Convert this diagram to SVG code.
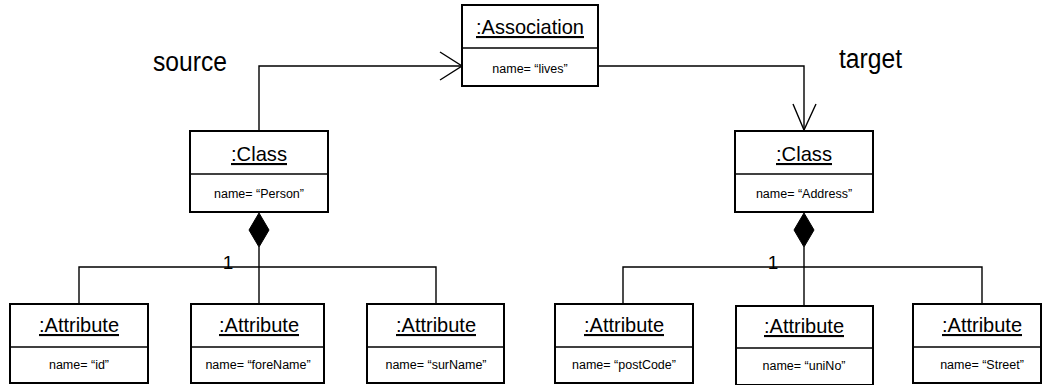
<svg xmlns="http://www.w3.org/2000/svg" width="1043" height="385" viewBox="0 0 1043 385">
<style>
.box{fill:#fff;stroke:#000;stroke-width:2}
.div{stroke:#000;stroke-width:1.6}
.title{font-family:"Liberation Sans",Arial,sans-serif;font-size:21px;text-anchor:middle;text-decoration:underline;fill:#000}
.val{font-family:"Liberation Sans",Arial,sans-serif;font-size:12.5px;text-anchor:middle;fill:#000}
.lbl{font-family:"Liberation Sans",Arial,sans-serif;font-size:27px;fill:#000}
.mult{font-family:"Liberation Sans",Arial,sans-serif;font-size:19px;text-anchor:middle;fill:#000}
.con{fill:none;stroke:#000;stroke-width:1.4}
.dia{fill:#000;stroke:#000;stroke-width:1}
</style>
<rect width="1043" height="385" fill="#fff"/>
<g id="connectors">
<polyline class="con" points="259,131 259,66 462,66"/>
<polyline class="con" points="440,52 462,66 440,80"/>
<polyline class="con" points="598,66 804,66 804,131"/>
<polyline class="con" points="793,104 804,130 816,104"/>
<polygon class="dia" points="259,213 269,230 259,247 249,230"/>
<line class="con" x1="259" y1="247" x2="259" y2="304"/>
<polyline class="con" points="79,304 79,267 436,267 436,304"/>
<polygon class="dia" points="804,213 814,230 804,247 794,230"/>
<line class="con" x1="804" y1="247" x2="804" y2="306"/>
<polyline class="con" points="623,304 623,267 982,267 982,304"/>
<text class="mult" x="228" y="269">1</text>
<text class="mult" x="773" y="269">1</text>
</g>
<text class="lbl" x="153" y="71" textLength="74" lengthAdjust="spacingAndGlyphs">source</text>
<text class="lbl" x="839" y="68" textLength="63" lengthAdjust="spacingAndGlyphs">target</text>
<g id="association">
<rect class="box" x="462" y="5" width="136" height="81"/>
<line class="div" x1="462" y1="48" x2="598" y2="48"/>
<text class="title" x="530" y="34" textLength="108" lengthAdjust="spacingAndGlyphs">:Association</text>
<text class="val" x="530" y="73">name= “lives”</text>
</g>
<g id="class-person">
<rect class="box" x="190" y="131" width="138" height="81"/>
<line class="div" x1="190" y1="174" x2="328" y2="174"/>
<text class="title" x="259" y="161" textLength="56" lengthAdjust="spacingAndGlyphs">:Class</text>
<text class="val" x="259" y="198">name= “Person”</text>
</g>
<g id="class-address">
<rect class="box" x="735" y="131" width="138" height="81"/>
<line class="div" x1="735" y1="174" x2="873" y2="174"/>
<text class="title" x="804" y="161" textLength="56" lengthAdjust="spacingAndGlyphs">:Class</text>
<text class="val" x="804" y="198">name= “Address”</text>
</g>
<g id="attr-id">
<rect class="box" x="10" y="304" width="138" height="79"/>
<line class="div" x1="10" y1="347" x2="148" y2="347"/>
<text class="title" x="79" y="332" textLength="80" lengthAdjust="spacingAndGlyphs">:Attribute</text>
<text class="val" x="79" y="369">name= “id”</text>
</g>
<g id="attr-forename">
<rect class="box" x="191" y="304" width="133" height="79"/>
<line class="div" x1="191" y1="347" x2="324" y2="347"/>
<text class="title" x="259" y="332" textLength="80" lengthAdjust="spacingAndGlyphs">:Attribute</text>
<text class="val" x="258" y="369">name= “foreName”</text>
</g>
<g id="attr-surname">
<rect class="box" x="367" y="304" width="137" height="79"/>
<line class="div" x1="367" y1="347" x2="504" y2="347"/>
<text class="title" x="436" y="332" textLength="80" lengthAdjust="spacingAndGlyphs">:Attribute</text>
<text class="val" x="436" y="369">name= “surName”</text>
</g>
<g id="attr-postcode">
<rect class="box" x="555" y="304" width="138" height="79"/>
<line class="div" x1="555" y1="347" x2="693" y2="347"/>
<text class="title" x="624" y="332" textLength="80" lengthAdjust="spacingAndGlyphs">:Attribute</text>
<text class="val" x="624" y="369">name= “postCode”</text>
</g>
<g id="attr-unino">
<rect class="box" x="736" y="306" width="137" height="79"/>
<line class="div" x1="736" y1="348" x2="873" y2="348"/>
<text class="title" x="804" y="333" textLength="80" lengthAdjust="spacingAndGlyphs">:Attribute</text>
<text class="val" x="804" y="370">name= “uniNo”</text>
</g>
<g id="attr-street">
<rect class="box" x="913" y="304" width="128" height="79"/>
<line class="div" x1="913" y1="347" x2="1041" y2="347"/>
<text class="title" x="982" y="332" textLength="80" lengthAdjust="spacingAndGlyphs">:Attribute</text>
<text class="val" x="982" y="369">name= “Street”</text>
</g>
</svg>
